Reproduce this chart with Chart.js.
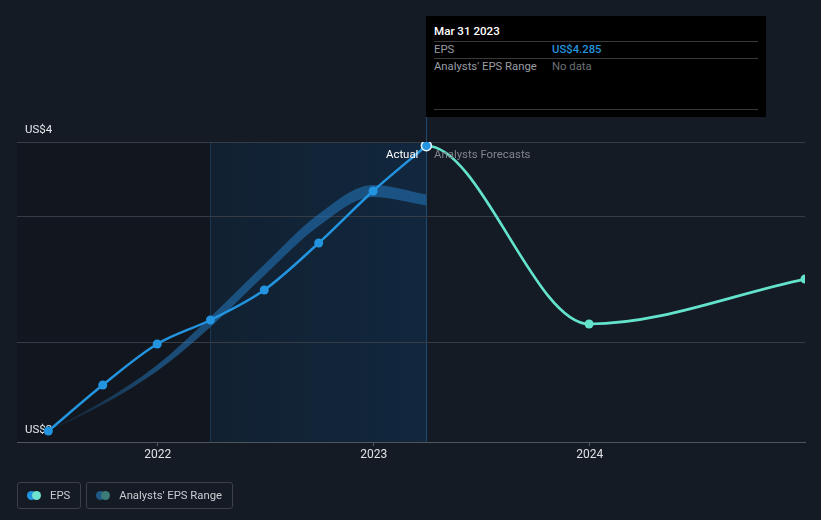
<!DOCTYPE html>
<html>
<head>
<meta charset="utf-8">
<script src="https://cdn.jsdelivr.net/npm/chart.js@4"></script>
<style>
  body { margin: 0; background: #151b24; font-family: Roboto, "Noto Sans", sans-serif; }
  #wrap { position: relative; width: 821px; height: 520px; }
  #tip { position: absolute; top: 16px; width: 340px; height: 101px; background: #000; font-size: 11.3px; }
  #tip .t { position: absolute; left: 8px; top: 8px; color: #fff; font-weight: 500; font-size: 11.6px; }
  #tip .sep { position: absolute; left: 8px; width: 324px; height: 1px; background: #3a3a3a; }
  #tip .lbl { position: absolute; left: 8px; color: #9a9ea4; }
  #tip .val { position: absolute; left: 126px; }
  .mark { position: absolute; font-size: 11.4px; line-height: 14px; }
  #legend { position: absolute; left: 17px; top: 482px; display: flex; gap: 5px; }
  .lg { height: 25px; border: 1px solid #3b404a; border-radius: 3px; display: flex; align-items: center; padding: 0 10px 0 9px; color: #c9ccd1; font-size: 11.3px; }
  .dots { position: relative; width: 14px; height: 9px; margin-right: 9px; }
  .dots i { position: absolute; top: 0; width: 9px; height: 9px; border-radius: 50%; }
</style>
</head>
<body>
<div id="wrap">
  <canvas id="c" width="821" height="520"></canvas>
  <div id="tip">
    <div class="t">Mar 31 2023</div>
    <div class="sep" style="top:25px"></div>
    <div class="lbl" style="top:27px">EPS</div>
    <div class="val" style="top:27px;color:#2394df;font-weight:500">US$4.285</div>
    <div class="sep" style="top:42px"></div>
    <div class="lbl" style="top:44px">Analysts' EPS Range</div>
    <div class="val" style="top:44px;color:#6c7077">No data</div>
    <div class="sep" style="top:93px"></div>
  </div>
  <div class="mark" id="lblActual" style="color:#fff">Actual</div>
  <div class="mark" id="lblForecast" style="color:#80858c">Analysts Forecasts</div>
  <div id="legend">
    <div class="lg"><div class="dots"><i style="left:0;background:#2394df"></i><i style="left:5px;background:#6ee3cf"></i></div>EPS</div>
    <div class="lg"><div class="dots"><i style="left:0;background:#1f5a86"></i><i style="left:5px;background:#3b7b78"></i></div>Analysts' EPS Range</div>
  </div>
</div>
<script>
  // data
  const actualDates = ['2021-06-30', '2021-09-30', '2021-12-31', '2022-03-31', '2022-06-30', '2022-09-30', '2022-12-31', '2023-03-31'];
  const actualEps = [3.144, 3.328, 3.492, 3.588, 3.708, 3.896, 4.104, 4.285];

  const forecastDates = ['2023-03-31', '2023-12-31', '2024-12-31'];
  const forecastEps = [4.285, 3.572, 3.752];

  const rangeDates = ['2021-06-30', '2021-09-30', '2021-12-31', '2022-03-31', '2022-06-30', '2022-09-30', '2022-12-31', '2023-03-31'];
  const rangeLow = [3.144, 3.25, 3.384, 3.56, 3.766, 3.964, 4.08, 4.046];
  const rangeHigh = [3.144, 3.262, 3.408, 3.60, 3.81, 4.012, 4.128, 4.09];

  const yTickValues = [3.1, 3.5, 4.0, 4.3];
  const yTickLabels = ['US$3', '', '', 'US$4'];
  const xTickValues = [2022, 2023, 2024];

  const lastYearStart = '2022-03-31';
  const nowDate = '2023-03-31';

  const blue = '#2394df';
  const teal = '#64e3cc';

  // date string -> decimal year
  function toYear(s){
    const d = new Date(s + 'T00:00:00Z');
    const y = d.getUTCFullYear();
    const start = Date.UTC(y, 0, 1), end = Date.UTC(y + 1, 0, 1);
    return y + (d.getTime() - start) / (end - start);
  }
  const pts = (dates, vals) => dates.map((d, i) => ({x: toYear(d), y: vals[i]}));

  // forecast line starts at "now"; the previous actual point is kept (hidden) so the curve leaves flat
  const fcDates = [actualDates[actualDates.length - 2]].concat(forecastDates);
  const fcVals = [actualEps[actualEps.length - 2]].concat(forecastEps);

  const lastIdx = actualEps.length - 1;

  const bandFill = (ctx) => {
    const {chart} = ctx;
    const area = chart.chartArea;
    if(!area) return 'rgba(35,120,190,0.5)';
    const xs = chart.scales.x;
    const g = chart.ctx.createLinearGradient(xs.getPixelForValue(toYear(actualDates[0])), 0, xs.getPixelForValue(2022), 0);
    g.addColorStop(0, 'rgba(35,110,175,0.15)');
    g.addColorStop(1, 'rgba(35,120,190,0.55)');
    return g;
  };

  const shading = {
    id: 'shading',
    beforeDraw(chart){
      const {ctx, chartArea: a, scales} = chart;
      const x0 = scales.x.getPixelForValue(toYear(lastYearStart));
      const x1 = scales.x.getPixelForValue(toYear(nowDate));
      ctx.save();
      ctx.fillStyle = 'rgba(0,0,0,0.12)';
      ctx.fillRect(a.left, a.top, x1 - a.left, a.bottom - a.top);
      const g = ctx.createLinearGradient(x0, 0, x1, 0);
      g.addColorStop(0, 'rgba(15,90,160,0.14)');
      g.addColorStop(1, 'rgba(15,90,160,0.24)');
      ctx.fillStyle = g;
      ctx.fillRect(x0, a.top, x1 - x0, a.bottom - a.top);
      ctx.lineWidth = 1;
      ctx.strokeStyle = '#1b3650';
      ctx.beginPath();
      ctx.moveTo(Math.round(x0) + 0.5, a.top);
      ctx.lineTo(Math.round(x0) + 0.5, a.bottom);
      ctx.stroke();
      ctx.strokeStyle = '#1f4a70';
      ctx.beginPath();
      ctx.moveTo(Math.round(x1) + 0.5, a.top - 25);
      ctx.lineTo(Math.round(x1) + 0.5, a.bottom);
      ctx.stroke();
      ctx.restore();
    },
    afterDraw(chart){
      const {chartArea: a, scales} = chart;
      const x1 = Math.round(scales.x.getPixelForValue(toYear(nowDate)));
      document.getElementById('tip').style.left = x1 + 'px';
      const act = document.getElementById('lblActual');
      act.style.top = (a.top + 5) + 'px';
      act.style.left = (x1 - 8 - act.offsetWidth) + 'px';
      const fc = document.getElementById('lblForecast');
      fc.style.top = (a.top + 5) + 'px';
      fc.style.left = (x1 + 8) + 'px';
    }
  };

  const chart = new Chart(document.getElementById('c'), {
    type: 'line',
    data: {
      datasets: [
        {
          label: 'EPS',
          data: pts(actualDates, actualEps),
          borderColor: blue,
          backgroundColor: blue,
          borderWidth: 2.5,
          cubicInterpolationMode: 'monotone',
          pointRadius: actualEps.map((v, i) => i === lastIdx ? 5 : 4.5),
          pointBorderWidth: actualEps.map((v, i) => i === lastIdx ? 1.5 : 0),
          pointBorderColor: actualEps.map((v, i) => i === lastIdx ? '#e8f4ff' : blue),
          pointBackgroundColor: blue,
          fill: false,
          order: 0
        },
        {
          label: 'Forecast',
          data: pts(fcDates, fcVals),
          borderColor: teal,
          backgroundColor: teal,
          borderWidth: 2.7,
          cubicInterpolationMode: 'monotone',
          segment: { borderColor: ctx => ctx.p0DataIndex === 0 ? 'transparent' : teal },
          pointRadius: fcVals.map((v, i) => i < 2 ? 0 : 4.5),
          pointBorderWidth: 0,
          fill: false,
          order: 1
        },
        {
          label: 'RangeLow',
          data: pts(rangeDates, rangeLow),
          borderWidth: 0,
          pointRadius: 0,
          cubicInterpolationMode: 'monotone',
          fill: false,
          order: 2
        },
        {
          label: "Analysts' EPS Range",
          data: pts(rangeDates, rangeHigh),
          borderWidth: 0,
          pointRadius: 0,
          cubicInterpolationMode: 'monotone',
          backgroundColor: bandFill,
          fill: '-1',
          order: 3
        }
      ]
    },
    options: {
      responsive: false,
      animation: false,
      events: [],
      layout: { padding: { top: 142, right: 16, left: 0, bottom: 0 } },
      plugins: { legend: { display: false }, tooltip: { enabled: false } },
      scales: {
        x: {
          type: 'linear',
          min: toYear('2021-05-08'),
          max: toYear('2024-12-31'),
          afterBuildTicks: s => { s.ticks = xTickValues.map(v => ({value: v})); },
          afterFit: s => { s.height = 78; },
          grid: { display: true, drawOnChartArea: false, drawTicks: true, tickLength: 4, color: '#555b63' },
          border: { display: true, color: '#4f555d' },
          ticks: { color: '#dfe1e4', font: { family: 'Roboto', size: 12 }, padding: 2, callback: v => String(v) }
        },
        y: {
          min: yTickValues[0],
          max: yTickValues[yTickValues.length - 1],
          afterBuildTicks: s => { s.ticks = yTickValues.map(v => ({value: v})); },
          afterFit: s => { s.width = 17; },
          grid: { color: '#363c45', drawTicks: false, tickLength: 0 },
          border: { display: false },
          ticks: {
            mirror: true,
            padding: 8,
            labelOffset: -12,
            color: '#e6e8eb',
            font: { family: 'Roboto', size: 11.5 },
            callback: (v, i) => yTickLabels[i]
          }
        }
      }
    },
    plugins: [shading]
  });
</script>
</body>
</html>
